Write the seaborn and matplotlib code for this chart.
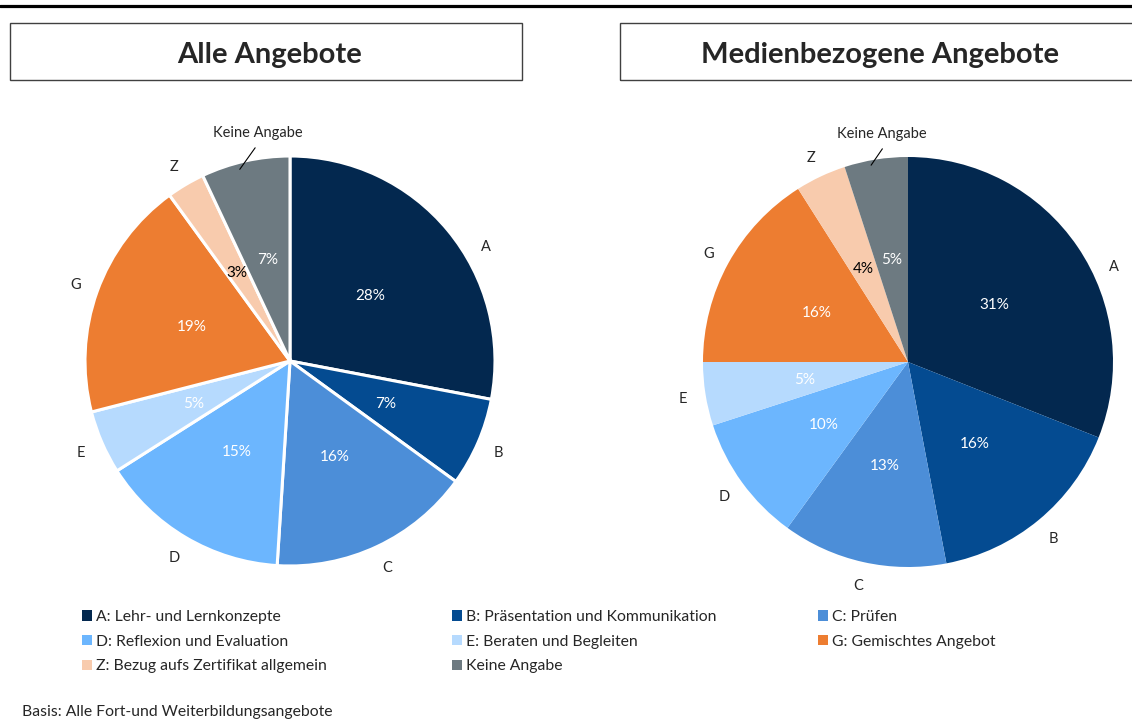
import numpy as np
import matplotlib
matplotlib.use("Agg")
import matplotlib.pyplot as plt
import seaborn as sns
from matplotlib.patches import Rectangle, Patch
from matplotlib.lines import Line2D

# data
categories = ["A", "B", "C", "D", "E", "G", "Z", "Keine Angabe"]
legend_labels = ["A: Lehr- und Lernkonzepte", "B: Präsentation und Kommunikation", "C: Prüfen",
                 "D: Reflexion und Evaluation", "E: Beraten und Begleiten", "G: Gemischtes Angebot",
                 "Z: Bezug aufs Zertifikat allgemein", "Keine Angabe"]
alle_values = [28, 7, 16, 15, 5, 19, 3, 7]
medien_values = [31, 16, 13, 10, 5, 16, 4, 5]
titles = ["Alle Angebote", "Medienbezogene Angebote"]
footnote = "Basis: Alle Fort-und Weiterbildungsangebote"

colors = ["#03284F", "#044B91", "#4C8ED8", "#6CB6FE", "#B6DAFE", "#ED7D31", "#F8CBAD", "#6D7A81"]
pct_colors = ["white"] * 6 + ["black", "white"]

sns.set_theme(style="white")
plt.rcParams["font.family"] = ["Lato", "DejaVu Sans"]

W, H = 1132, 720
fig = plt.figure(figsize=(W / 100, H / 100), dpi=100)

def px(x, y):
    return x / W, 1 - y / H

# top rule
fig.add_artist(Line2D([0, 1], [1 - 5.5 / H] * 2, color="black", lw=2.3))

# title boxes
boxes = [(10, 23, 512, 57), (620, 23, 530, 57)]
title_x = [270, 880]
for (bx, by, bw, bh), t, tx in zip(boxes, titles, title_x):
    x0, y0 = px(bx, by + bh)
    fig.add_artist(Rectangle((x0, y0), bw / W, bh / H, transform=fig.transFigure,
                             fill=False, edgecolor="#404040", lw=1.0))
    fig.text(*px(tx, 53), t, ha="center", va="center_baseline", fontsize=21, fontweight="bold")

def draw_pie(ax, values, edge, keine_text, keine_line, a_shift):
    wedges, _, autotexts = ax.pie(values, colors=colors, startangle=90, counterclock=False,
                                  autopct="%1.0f%%", pctdistance=0.51, radius=1,
                                  wedgeprops=dict(edgecolor="white" if edge else "none",
                                                  linewidth=2.2 if edge else 0),
                                  textprops=dict(fontsize=11))
    for t, c in zip(autotexts, pct_colors):
        t.set_color(c)
        t.set_va("center_baseline")
    for i, w in enumerate(wedges[:-1]):
        ang = np.deg2rad((w.theta1 + w.theta2) / 2 + (a_shift if i == 0 else 0))
        ax.text(1.11 * np.cos(ang), 1.11 * np.sin(ang), categories[i],
                ha="center", va="center_baseline", fontsize=10.5)
    ax.text(*keine_text, categories[-1], ha="center", va="center_baseline", fontsize=10.5)
    ax.plot(*keine_line, color="black", lw=0.8, clip_on=False)
    ax.set_xlim(-1, 1)
    ax.set_ylim(-1, 1)
    ax.set_aspect("equal")
    ax.axis("off")

r = 205
ax1 = fig.add_axes([(290 - r) / W, (H - 361 - r) / H, 2 * r / W, 2 * r / H])
draw_pie(ax1, alle_values, True, (-0.155, 1.12), ([-0.17, -0.245], [1.04, 0.935]), -9)
ax2 = fig.add_axes([(908 - r) / W, (H - 362 - r) / H, 2 * r / W, 2 * r / H])
draw_pie(ax2, medien_values, False, (-0.13, 1.12), ([-0.125, -0.18], [1.04, 0.96]), -9)

# legend in three columns
handles = [Patch(facecolor=c, edgecolor="none") for c in colors]
col_x = [82, 452, 818]
for k, cx in enumerate(col_x):
    idx = [k, k + 3, k + 6] if k < 2 else [k, k + 3]
    leg = fig.legend([handles[i] for i in idx], [legend_labels[i] for i in idx],
                     loc="upper left", bbox_to_anchor=px(cx, 610), frameon=False,
                     fontsize=11.3, handlelength=0.62, handleheight=0.62, handletextpad=0.3,
                     labelspacing=0.68, borderaxespad=0, borderpad=0)

fig.text(*px(22, 712), footnote, ha="left", va="center", fontsize=11.3)

fig.savefig("out.png", dpi=100)
